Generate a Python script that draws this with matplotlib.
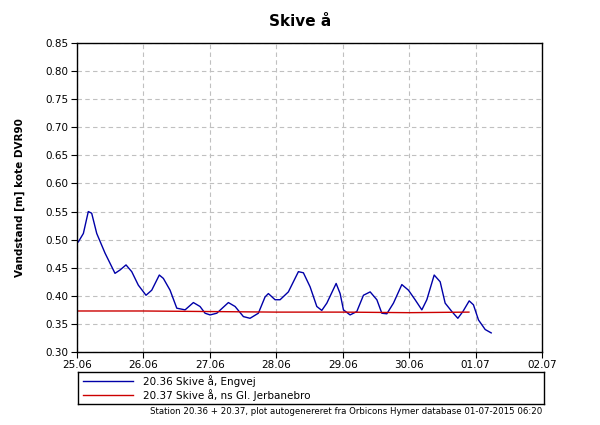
import matplotlib
matplotlib.use("Agg")
import matplotlib.pyplot as plt
from matplotlib.lines import Line2D

title = "Skive å"
ylabel = "Vandstand [m] kote DVR90"
xtick_labels = ["25.06", "26.06", "27.06", "28.06", "29.06", "30.06", "01.07", "02.07"]
yticks = [0.30, 0.35, 0.40, 0.45, 0.50, 0.55, 0.60, 0.65, 0.70, 0.75, 0.80, 0.85]
series_names = ["20.36 Skive å, Engvej", "20.37 Skive å, ns Gl. Jerbanebro"]
footer = "Station 20.36 + 20.37, plot autogenereret fra Orbicons Hymer database 01-07-2015 06:20"

# days since 25.06 00:00
blue_days = [0.020, 0.096, 0.170, 0.221, 0.297, 0.422, 0.572, 0.648, 0.738, 0.824, 0.923,
             1.039, 1.125, 1.239, 1.300, 1.401, 1.502, 1.627, 1.752, 1.852, 1.928, 2.003,
             2.104, 2.279, 2.380, 2.505, 2.605, 2.730, 2.831, 2.881, 2.982, 3.057, 3.182,
             3.333, 3.408, 3.509, 3.610, 3.685, 3.761, 3.901, 3.961, 4.011, 4.111, 4.212,
             4.312, 4.413, 4.514, 4.589, 4.664, 4.764, 4.890, 4.990, 5.090, 5.191, 5.266,
             5.377, 5.467, 5.542, 5.643, 5.733, 5.809, 5.904, 5.968, 6.044, 6.145, 6.235]
blue_vals = [0.496, 0.511, 0.550, 0.547, 0.511, 0.476, 0.440, 0.446, 0.455, 0.443, 0.419,
             0.401, 0.410, 0.437, 0.431, 0.410, 0.378, 0.375, 0.388, 0.381, 0.369, 0.366,
             0.369, 0.388, 0.381, 0.363, 0.360, 0.369, 0.398, 0.404, 0.393, 0.393, 0.407,
             0.443, 0.441, 0.416, 0.381, 0.374, 0.387, 0.422, 0.404, 0.375, 0.366, 0.372,
             0.401, 0.407, 0.393, 0.369, 0.368, 0.387, 0.420, 0.410, 0.393, 0.375, 0.393,
             0.437, 0.425, 0.387, 0.372, 0.360, 0.372, 0.391, 0.384, 0.357, 0.340, 0.334]

red_days = [0.0, 1.0, 2.0, 3.0, 4.0, 5.0, 5.9]
red_vals = [0.373, 0.373, 0.372, 0.371, 0.371, 0.370, 0.371]

blue_c = "#0000a8"
red_c = "#cc0000"

fig = plt.figure(figsize=(6, 4.25), dpi=100)
ax = fig.add_axes([77/600, 1-352/425, (542-77)/600, (352-43)/425])
ax.plot(blue_days, blue_vals, color=blue_c, lw=1.0)
ax.plot(red_days, red_vals, color=red_c, lw=1.0)

ax.set_xlim(0, 7)
ax.set_ylim(0.30, 0.85)
ax.set_xticks(range(len(xtick_labels)))
ax.set_xticklabels(xtick_labels)
ax.set_yticks(yticks)
ax.set_yticklabels([f"{v:.2f}" for v in yticks])
ax.tick_params(labelsize=7.5, length=4, width=0.8, pad=2)
ax.grid(True, color="#c0c0c0", linestyle=(0, (4, 3)), lw=0.8)
for s in ax.spines.values():
    s.set_linewidth(1.0)
ax.set_ylabel(ylabel, fontsize=7.5, fontweight="bold", labelpad=15)
fig.text(0.5, 1-22/425, title, ha="center", va="center", fontsize=11, fontweight="bold")

# legend box
lax = fig.add_axes([78/600, 1-404/425, (544-78)/600, (404-372)/425])
lax.set_xlim(0, 1)
lax.set_ylim(0, 1)
lax.set_xticks([])
lax.set_yticks([])
for s in lax.spines.values():
    s.set_linewidth(1.0)
ys = [0.73, 0.27]
for y, c, name in zip(ys, [blue_c, red_c], series_names):
    lax.add_line(Line2D([5/466, 55/466], [y, y], color=c, lw=1.0))
    lax.text(65/466, y, name, fontsize=7.5, va="center", ha="left")

fig.text(542/600, 1-411/425, footer, fontsize=6.2, ha="right", va="center")

fig.savefig("out.png", dpi=100)
